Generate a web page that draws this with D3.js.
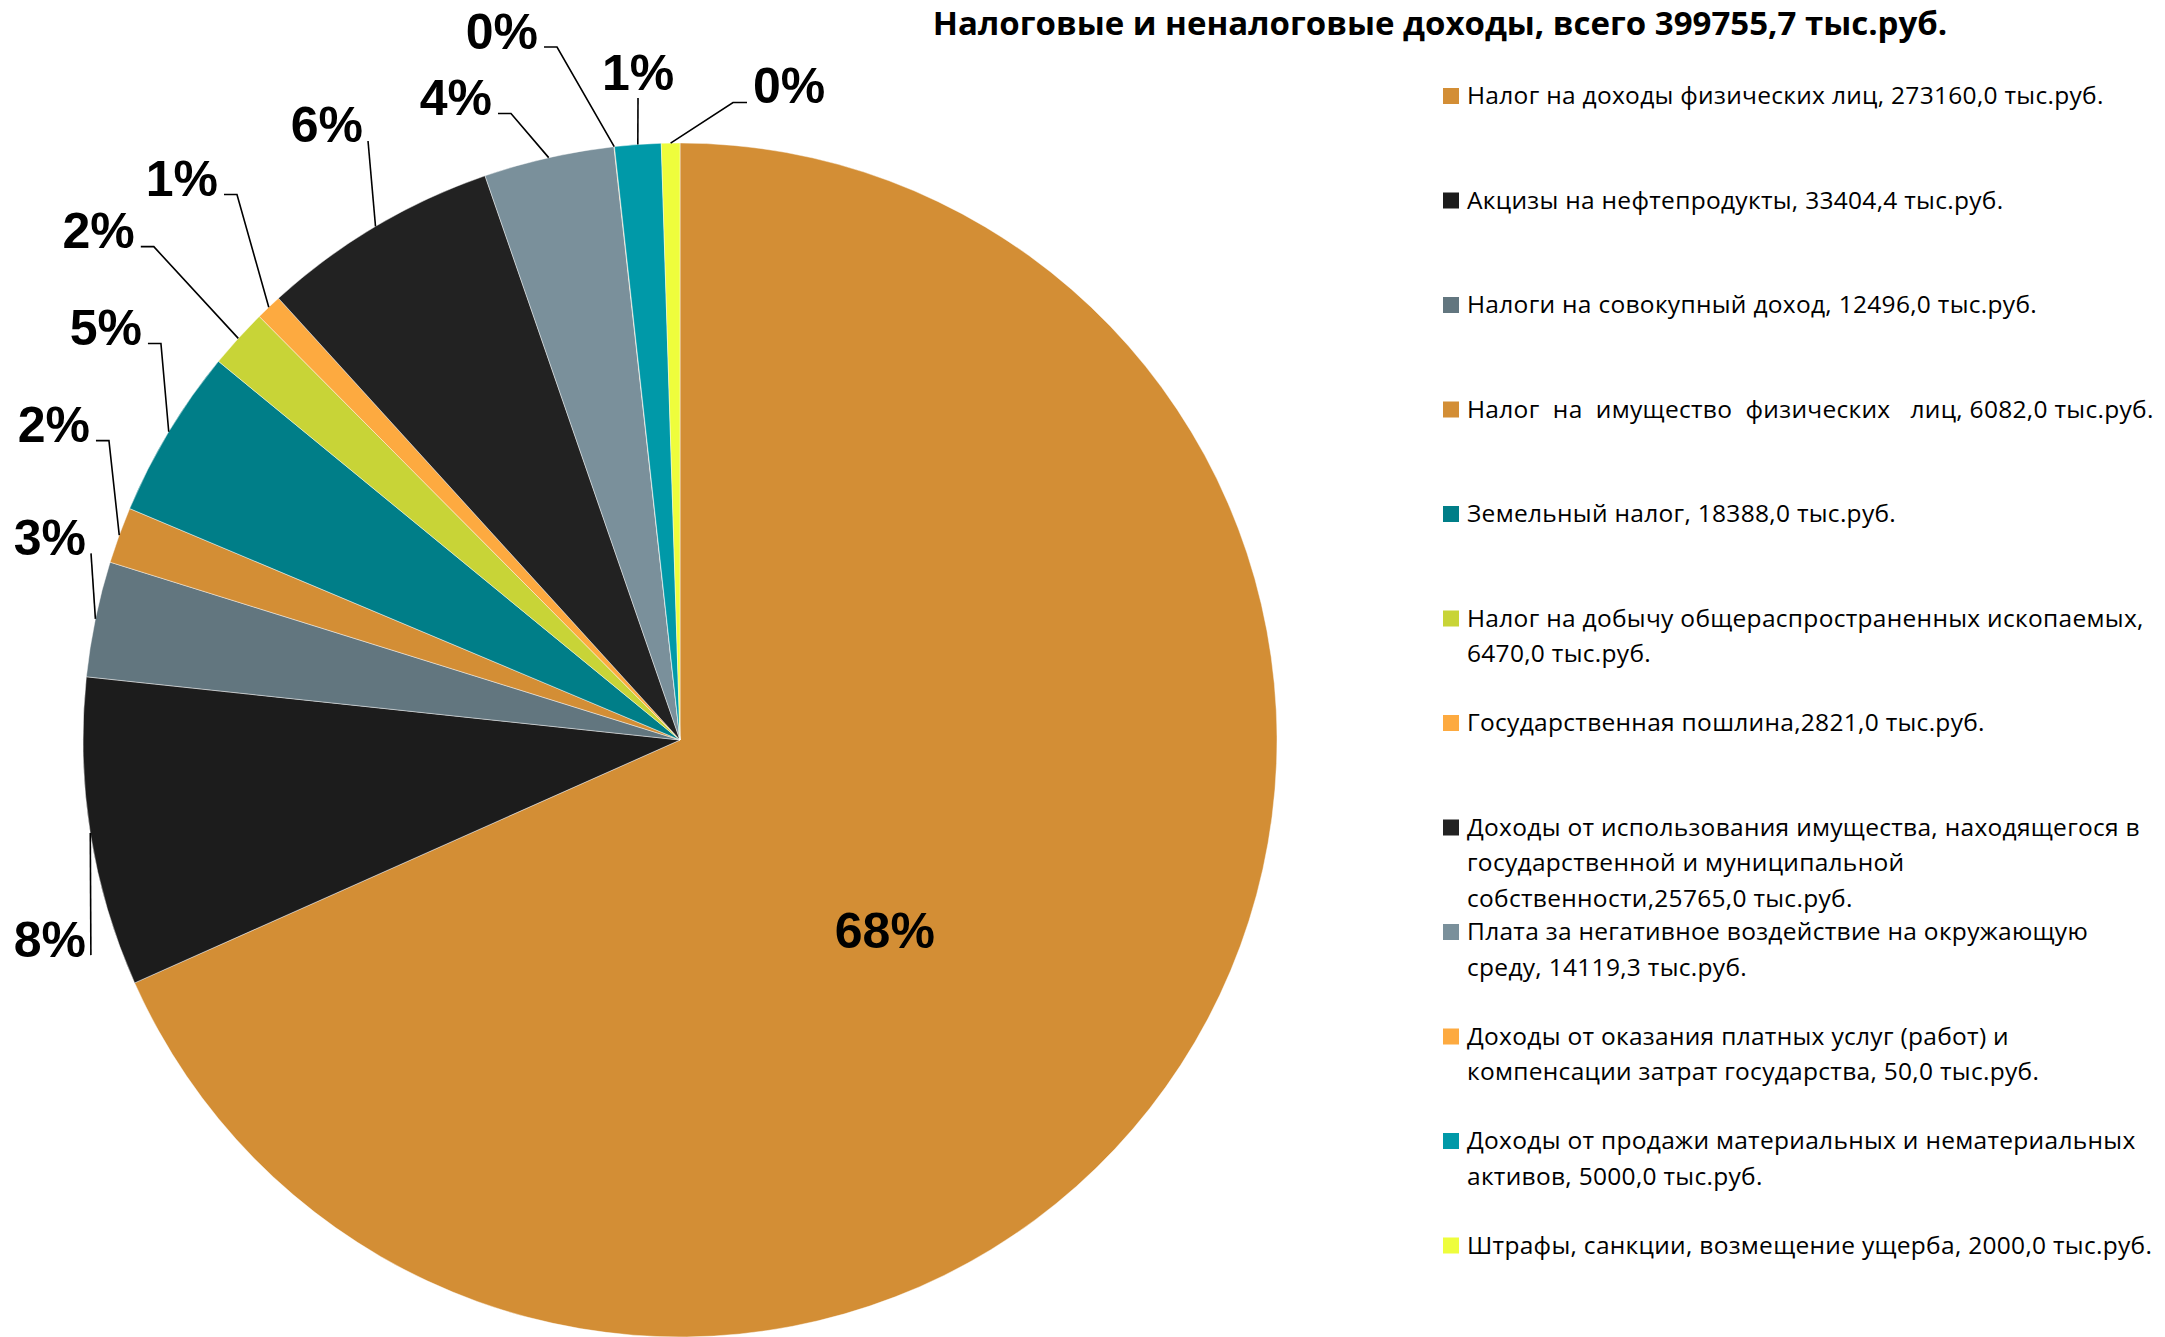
<!DOCTYPE html>
<html>
<head>
<meta charset="utf-8">
<script src="https://cdn.jsdelivr.net/npm/d3@7"></script>
<style>
  html, body { margin: 0; padding: 0; background: #fff; }
  svg { display: block; }
</style>
</head>
<body>
<svg id="chart" width="2165" height="1337"></svg>
<script>
// ---- DATA ----
const titleText = "Налоговые и неналоговые доходы, всего 399755,7 тыс.руб.";
const categories = [
  "Налог на доходы физических лиц, 273160,0 тыс.руб.",
  "Акцизы на нефтепродукты, 33404,4 тыс.руб.",
  "Налоги на совокупный доход, 12496,0 тыс.руб.",
  "Налог  на  имущество  физических   лиц, 6082,0 тыс.руб.",
  "Земельный налог, 18388,0 тыс.руб.",
  "Налог на добычу общераспространенных ископаемых,\n6470,0 тыс.руб.",
  "Государственная пошлина,2821,0 тыс.руб.",
  "Доходы от использования имущества, находящегося в\nгосударственной и муниципальной\nсобственности,25765,0 тыс.руб.",
  "Плата за негативное воздействие на окружающую\nсреду, 14119,3 тыс.руб.",
  "Доходы от оказания платных услуг (работ) и\nкомпенсации затрат государства, 50,0 тыс.руб.",
  "Доходы от продажи материальных и нематериальных\nактивов, 5000,0 тыс.руб.",
  "Штрафы, санкции, возмещение ущерба, 2000,0 тыс.руб."
];
const values = [273160, 33404.4, 12496, 6082, 18388, 6470, 2821, 25765, 14119.3, 50, 5000, 2000];
const percentLabels = ["68%", "8%", "3%", "2%", "5%", "2%", "1%", "6%", "4%", "0%", "1%", "0%"];
const colors = ["#D38E35", "#1C1C1C", "#62767F", "#D38E35", "#007E88", "#C8D437",
                "#FDAA40", "#222222", "#7A909B", "#FDAA40", "#0099A8", "#EEFD3C"];

// ---- LAYOUT (label nudges relative to the slice's edge anchor) ----
const labelLayout = [
  {type: "inside", dx: -30, dy: 38},
  {type: "direct", dx: -4.4, dy: 123.6},
  {type: "direct", dx: -9.4, dy: -64},
  {type: "elbowL", dx: -29.3, dy: -93},
  {type: "elbowL", dx: -26.8, dy: -86.7},
  {type: "elbowL", dx: -103.5, dy: -90.2},
  {type: "elbowL", dx: -50.8, dy: -111.2},
  {type: "direct", dx: -12.5, dy: -84},
  {type: "elbowL", dx: -56.7, dy: -42.6},
  {type: "elbowL", dx: -76.2, dy: -98.1},
  {type: "below", dx: 0.2, dy: -54.5},
  {type: "elbowR", dx: 82.4, dy: -40}
];

const W = 2165, H = 1337;
const cx = 680, cy = 740, R = 597;

const svg = d3.select("#chart");

// Title
svg.append("text")
  .attr("x", 1440).attr("y", 35)
  .attr("text-anchor", "middle")
  .style("font-family", "'Open Sans', 'Noto Sans', sans-serif")
  .style("font-weight", "700")
  .style("font-size", "33px")
  .attr("fill", "#000")
  .text(titleText);

// Pie
const pie = d3.pie().sort(null).value(d => d);
const arcs = pie(values);
const arc = d3.arc().innerRadius(0).outerRadius(R);

const g = svg.append("g").attr("transform", `translate(${cx},${cy})`);
g.selectAll("path.slice")
  .data(arcs)
  .enter().append("path")
  .attr("class", "slice")
  .attr("d", arc)
  .attr("fill", (d, i) => colors[i])
  .attr("stroke", "rgba(255,255,255,0.55)")
  .attr("stroke-width", 0.8);

// Labels
const labelFont = "'Liberation Sans', Arial, sans-serif";
const lg = svg.append("g");
arcs.forEach((d, i) => {
  const L = labelLayout[i];
  const mid = (d.startAngle + d.endAngle) / 2;
  if (L.type === "inside") {
    const rr = 280;
    const px = cx + Math.sin(mid) * rr + L.dx;
    const py = cy - Math.cos(mid) * rr + L.dy;
    lg.append("text")
      .attr("x", px).attr("y", py + 18)
      .attr("text-anchor", "middle")
      .style("font-family", labelFont).style("font-weight", "700").style("font-size", "50px")
      .text(percentLabels[i]);
    return;
  }
  const ex = cx + Math.sin(mid) * R;
  const ey = cy - Math.cos(mid) * R;
  const px = ex + L.dx, py = ey + L.dy;
  let anchor = "end";
  let pts;
  if (L.type === "direct") {
    pts = [[ex, ey], [px + 5, py - 1.5]];
  } else if (L.type === "elbowL") {
    const ax = px + 6, ay = py - 1.5;
    pts = [[ex, ey], [ax + 13, ay], [ax, ay]];
  } else if (L.type === "elbowR") {
    anchor = "start";
    const ax = px - 6, ay = py - 0.5;
    pts = [[ex, ey], [ax - 14, ay], [ax, ay]];
  } else if (L.type === "below") {
    anchor = "middle";
    pts = [[ex, ey], [px, py + 8]];
  }
  lg.append("path")
    .attr("d", d3.line()(pts))
    .attr("fill", "none")
    .attr("stroke", "#000")
    .attr("stroke-width", 1.6);
  lg.append("text")
    .attr("x", px).attr("y", py)
    .attr("text-anchor", anchor)
    .style("font-family", labelFont).style("font-weight", "700").style("font-size", "50px")
    .text(percentLabels[i]);
});

// Legend
const legX = 1443, legTextX = 1467, legY0 = 104, legStep = 104.5, lineH = 35.5;
const legendFont = "'Open Sans', 'Noto Sans', sans-serif";
const leg = svg.append("g");
categories.forEach((c, i) => {
  const by = legY0 + i * legStep;
  leg.append("rect")
    .attr("x", legX).attr("y", by - 16)
    .attr("width", 16).attr("height", 16)
    .attr("fill", colors[i]);
  const t = leg.append("text")
    .attr("x", legTextX).attr("y", by)
    .style("font-family", legendFont)
    .style("font-size", "24.5px")
    .style("letter-spacing", "0.3px")
    .style("white-space", "pre")
    .attr("fill", "#000");
  c.split("\n").forEach((line, j) => {
    t.append("tspan").attr("x", legTextX).attr("y", by + j * lineH).text(line);
  });
});
</script>
</body>
</html>
